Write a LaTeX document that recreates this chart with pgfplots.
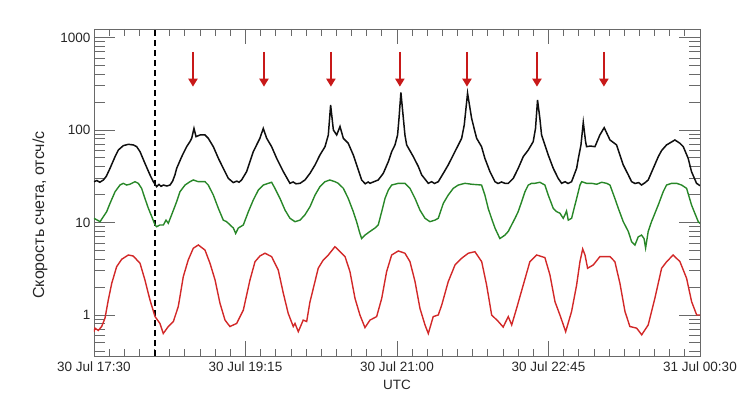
\documentclass[border=0pt]{standalone}
\usepackage{fontspec}
\setmainfont{Liberation Sans}
\usepackage{pgfplots}
\pgfplotsset{compat=1.18}
\usetikzlibrary{arrows.meta}
\definecolor{cblack}{RGB}{15,15,15}
\definecolor{cgreen}{RGB}{40,135,40}
\definecolor{cred}{RGB}{210,40,40}
\definecolor{carrow}{RGB}{200,25,25}
\definecolor{axgray}{RGB}{105,105,105}
\begin{document}
\begin{tikzpicture}[x=1pt,y=1pt]
\useasboundingbox (0,0) rectangle (750,411);
\begin{axis}[
  scale only axis, width=606pt, height=327pt,
  at={(94pt,55pt)}, anchor=south west,
  ymode=log,
  xmin=0, xmax=420, ymin=0.36, ymax=1236,
  axis line style={axgray, line width=0.9pt},
  tick style={axgray, line width=0.9pt},
  tick align=inside,
  /pgf/number format/assume math mode=true,
  ticklabel style={font=\fontsize{13.5}{16}\selectfont, text=black!85},
  label style={font=\fontsize{13.5}{16}\selectfont, text=black!85},
  xtick={0,105,210,315,420},
  xticklabels={30 Jul 17:30, 30 Jul 19:15, 30 Jul 21:00, 30 Jul 22:45, 31 Jul 00:30},
  minor x tick num=9,
  major tick length=15pt, minor tick length=7pt,
  ytick=\empty,
  xticklabel style={yshift=-2pt},
  xlabel={UTC},
  xlabel style={at={(axis description cs:0.5,-0.05)}, anchor=north, yshift=-4pt},
]
\addplot[draw=none] coordinates {(0,1)};
\end{axis}
\begin{axis}[
  scale only axis, width=606pt, height=327pt,
  at={(94pt,55pt)}, anchor=south west,
  ymode=log,
  xmin=0, xmax=420, ymin=0.36, ymax=1236,
  axis line style={axgray, line width=0.9pt},
  tick style={axgray, line width=0.9pt},
  tick align=inside,
  /pgf/number format/assume math mode=true,
  ticklabel style={font=\fontsize{13.5}{16}\selectfont, text=black!85},
  label style={font=\fontsize{13.5}{16}\selectfont, text=black!85},
  xtick=\empty,
  ytick={1,10,100,1000},
  yticklabels={1,10,100,1000},
  minor ytick={0.4,0.5,0.6,0.7,0.8,0.9,2,3,4,5,6,7,8,9,20,30,40,50,60,70,80,90,200,300,400,500,600,700,800,900},
  major tick length=21pt, minor tick length=11pt,
  ylabel={Скорость счета, отсч/с},
  ylabel style={font=\fontsize{16}{19}\selectfont, at={(axis description cs:-0.089,0.431)}, anchor=center},
]
% dashed line
\addplot[black, line width=1.6pt, dash pattern=on 6pt off 4pt] coordinates {(42.3,0.36) (42.3,1236)};
% black
\addplot[cblack, line width=1.5pt] coordinates {
(0,27.6)(2,28.4)(4,27.2)(6.5,28.8)(8.5,31.5)(11.1,38.5)(14.6,51.5)(16.9,60.8)(20.3,67.7)(23.8,70)(27.3,68.9)(29.6,66)(31.9,58.3)(35.3,43.6)(38.8,32.7)(41.1,27.6)(43.4,24.4)(45,25.8)(46.5,24.6)(48.1,25.4)(50.5,24.8)(52.7,25.4)(54.5,28)(56.1,32.7)(57.3,38.5)(60.8,51.5)(64.2,66)(66.5,74.8)(67.7,81.3)(69.3,104)(70.7,84.7)(73.5,88.3)(76.9,88.3)(79.2,81.3)(82.7,66)(86.2,49.4)(89.6,38.5)(93.1,30)(96.5,27)(99,28)(100.5,27.2)(102.3,28.8)(105.8,35.5)(108.1,45.5)(110.4,58.3)(112.7,68.9)(115,81.3)(117.3,104)(119.7,81.3)(123.1,66)(126.6,49.4)(131.2,35.5)(135.8,26.5)(138,27.4)(140,26.2)(142.8,26.5)(146.2,28.8)(149.7,34)(153.2,41.9)(156.6,53.7)(160.1,66)(162.4,88.3)(164,186)(165.9,100)(168.2,88.3)(170.5,109)(172.8,81.3)(176.2,71.8)(179.7,53.7)(182,41.9)(185.5,28.8)(188,26.2)(190,27.4)(191.3,26.5)(194,27.6)(197,28.8)(200.5,34)(204,45.5)(206.3,58.3)(208.6,68.9)(210.4,88.3)(211.4,134)(212.7,255)(214.4,134)(215.5,88.3)(216.7,68.9)(221.3,51.5)(224.8,40.2)(227.1,32.7)(231.7,26.5)(234,27.6)(236,26.4)(238.6,27.6)(242.1,34)(245.5,41.9)(249,53.7)(252.5,68.9)(254.8,81.3)(256.6,113)(258.9,250)(261.7,134)(264,96)(265.2,81.3)(268.6,66)(270.9,49.4)(274.4,35.5)(277.9,27.6)(280,26.4)(282.5,27.4)(284.8,26.5)(287.1,26.5)(290.6,30)(294,38.5)(297.5,51.5)(301,60.8)(304.4,74.8)(306,104)(307.4,211)(309,134)(310.2,88.3)(312.5,68.9)(314.8,53.7)(318.3,38.5)(321.7,30)(324.1,26.5)(326.5,27.6)(328.5,26.4)(331,27.6)(334.5,38.5)(335.7,49.4)(337.5,68.9)(339.1,121)(340.7,74.8)(341.4,66)(344,67)(347.2,66)(350.6,88.3)(353.6,106)(357.6,78)(362.2,68.9)(364.5,53.7)(366.8,41.9)(370.3,32.7)(372.6,27.6)(375,26.4)(377.5,27)(379.5,25.4)(382,27)(384.1,28.8)(387.6,38.5)(391.1,51.5)(393.4,60)(396.8,68.9)(402.6,78)(406.1,71.8)(408.4,66)(411.8,49.4)(414.1,35.5)(417.6,26.5)(420,25)
};
% green
\addplot[cgreen, line width=1.4pt] coordinates {
(0,11.1)(4.2,10.2)(8.8,13.1)(11.1,16.1)(14.6,21.5)(18,25.4)(20.3,26.5)(22.6,25.4)(24.9,25.9)(28.4,27.6)(30.7,26.5)(33,23.4)(35.3,18.2)(37.7,14.2)(40,11.6)(42.3,9.4)(43.4,9.0)(45.7,9.4)(48.1,9.4)(49.9,10.6)(51.5,9.8)(53.8,12.1)(57.3,16.8)(59.6,21.5)(63.1,25.4)(66.5,27.6)(68.8,28.8)(72.3,27.6)(76.9,27.6)(79.2,25.4)(82.7,19.8)(86.2,14.2)(89.6,10.6)(91.9,10.2)(94.3,9.4)(96.6,8.7)(98.2,7.6)(100,8.7)(103.5,9.4)(107,13.1)(110.4,17.5)(113.9,22.4)(117.3,25.4)(120.8,26.5)(123.1,27.2)(125.4,23.4)(128.9,18.2)(132.4,13.6)(135.8,11.1)(139.3,10.2)(142.8,10.6)(146.2,12.1)(149.7,14.8)(153.2,19.8)(156.6,24.4)(160.1,27.6)(163.5,28.8)(167,27.6)(169.3,26.5)(172.8,23.4)(176.2,18.2)(179.7,13.1)(182,10.2)(184.3,7.6)(185.5,6.7)(187.8,7.3)(191.3,8.0)(194.7,8.7)(197,9.4)(199.4,13.1)(201.7,18.2)(204,22.4)(206.3,25.4)(210.9,26.5)(215.5,26.5)(219,23.4)(222.5,18.2)(225.9,13.6)(229.4,11.1)(232.8,10.2)(236.3,10.6)(238.6,11.1)(242.1,16.1)(245.5,19.8)(249,23.4)(252.5,25.4)(257.1,26.5)(261.7,25.9)(268.6,25.4)(270.9,19.8)(273.2,14.2)(275.5,11.1)(277.9,8.7)(281.3,6.7)(284.8,7.3)(287.1,8.0)(291.8,11.1)(294,13.1)(296.4,16.8)(298.7,21.5)(301,25.4)(303.3,26.5)(305.6,26.5)(309,27.2)(312.5,25.4)(314.8,19.8)(318.3,14.2)(320.6,13.1)(322.9,12.6)(325.2,11.1)(326.4,12.1)(327.5,13.3)(328.7,10.6)(331,11.1)(334.5,18.2)(336.8,25.4)(338,27.6)(341.4,26.5)(344.9,26.5)(348.4,25.9)(351.8,27.2)(355.3,26.5)(357.6,25.4)(361,18.2)(363.4,14.2)(366.8,10.2)(370.3,8.0)(372.6,6.2)(374.9,5.7)(377.2,7.0)(379.5,7.3)(381.2,6.7)(382.3,5.3)(384.1,8.0)(386.4,10.2)(391.1,15.5)(394.5,21.5)(396.8,25.4)(400.3,26.5)(403.8,26.5)(407.2,25.4)(410.7,23.4)(414.1,15.5)(416.4,12.6)(418.8,10.2)(420,9.8)
};
% red
\addplot[cred, line width=1.4pt] coordinates {
(0,0.66)(0.7,0.72)(3,0.68)(5.3,0.75)(7.6,0.92)(9.9,1.45)(12.3,2.2)(15.7,3.33)(19.2,4.0)(23.8,4.45)(27.2,4.34)(31.9,3.62)(35.3,2.39)(38.8,1.45)(42.3,0.96)(45.7,0.81)(48,0.63)(51.5,0.75)(55,0.85)(58.4,1.23)(61.9,2.6)(65.3,3.93)(68.8,5.26)(72.3,5.71)(76.9,5.04)(80.4,3.62)(83.9,2.39)(87.3,1.34)(90.8,0.88)(94.2,0.75)(98.9,0.81)(103.5,1.13)(108.1,2.39)(111.6,3.77)(115,4.34)(118.5,4.65)(123.1,4.27)(127.7,3.06)(131.2,1.72)(134.6,1.04)(138.1,0.75)(139.3,0.81)(141.6,0.66)(145,0.88)(147.4,0.85)(149.7,1.39)(152,1.94)(155.4,3.2)(158.9,3.93)(162.4,4.45)(167,5.47)(170.5,4.83)(174,4.27)(177.4,2.94)(180.9,1.51)(184.3,1.0)(187.8,0.73)(191.3,0.88)(195.9,0.96)(199.4,1.51)(202.8,2.94)(206.3,4.45)(210.9,4.92)(215.5,4.65)(219,3.77)(222.5,2.29)(225.9,1.18)(229.4,0.78)(231.7,0.63)(235.1,0.96)(238.6,1.0)(241,1.28)(245.5,2.29)(250.2,3.47)(254.8,4.1)(259.4,4.65)(264,4.83)(268.7,3.77)(272.1,2.11)(275.6,1.0)(280.2,0.85)(283.6,0.74)(287.1,0.96)(289.5,0.78)(292.9,1.18)(297.5,2.11)(302.1,3.77)(306.8,4.45)(312.5,4.17)(316,2.71)(319.5,1.39)(322.9,1.0)(326.9,0.66)(331,1.09)(334.5,2.11)(336.8,3.77)(338.7,5.17)(340.3,4.45)(342.1,3.2)(346,3.47)(350.6,4.27)(357.6,4.27)(361,3.77)(364.5,2.2)(368,1.09)(371.4,0.75)(376.1,0.72)(379.6,0.61)(384.1,0.78)(388.7,1.51)(393.4,3.2)(396.9,3.77)(401.4,4.45)(406.1,3.77)(410.7,2.49)(414.2,1.39)(417.7,1.0)(420,1.0)
};
% arrows
\pgfplotsinvokeforeach{68.6,117.8,164.2,212,258.5,307,353.4}{
  \addplot[carrow, line width=2.6pt, -{Triangle[length=8pt,width=9pt]}] coordinates {(#1,697) (#1,294)};
}
\end{axis}
\end{tikzpicture}
\end{document}
